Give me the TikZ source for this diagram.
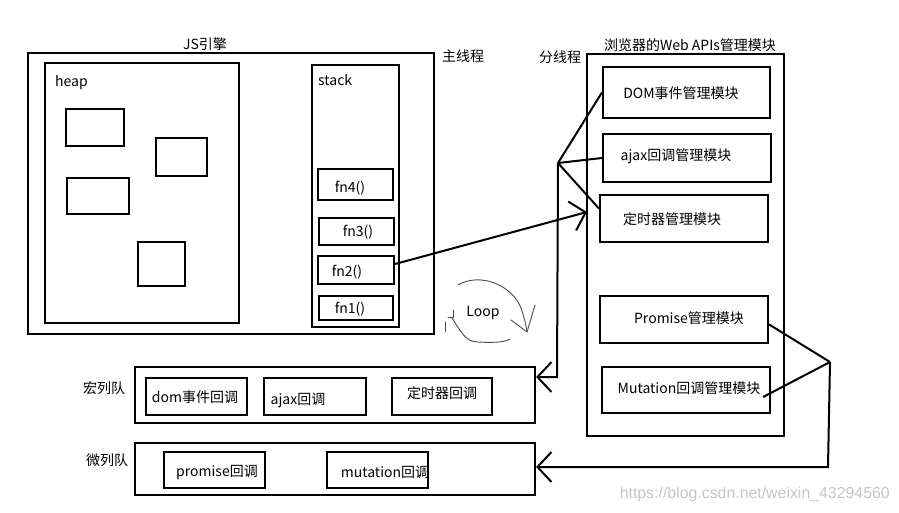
\documentclass[tikz,border=0pt]{standalone}
\usepackage{fontspec}
\setmainfont{Noto Sans CJK SC}
\usetikzlibrary{fit,arrows.meta}
\begin{document}
\begin{tikzpicture}[x=1pt,y=-1pt,
  box/.style={draw, line width=2.2pt, inner sep=0pt},
  lbl/.style={font=\fontsize{14}{16}\selectfont, inner sep=0pt},
  conn/.style={line width=2pt},
  tip/.style={-{Straight Barb[length=14pt,width=30pt,line width=2pt]}},
  hand/.style={line width=0.9pt, gray!60!black, line cap=round}]
\useasboundingbox[fill=white] (0,0) rectangle (899,513);

% JS engine
\node[box, fit={(28,53)(434,334)}] (js) {};
\node[lbl] (jslbl) at (205,44) {JS引擎};
\node[box, fit={(45,63)(239,323)}] (heap) {};
\node[lbl, anchor=west] (heaplbl) at (55,83) {heap};
\node[box, fit={(66,109)(124,146)}] (h1) {};
\node[box, fit={(156,138)(207,176)}] (h2) {};
\node[box, fit={(67,178)(129,214)}] (h3) {};
\node[box, fit={(138,242)(185,286)}] (h4) {};
\node[box, fit={(312,65)(399,327)}] (stack) {};
\node[lbl, anchor=west] (stacklbl) at (318,80) {stack};
\node[box, fit={(318,169)(393,200)}] (fn4) {};
\node[lbl] (fn4t) at (350,188) {fn4()};
\node[box, fit={(319,218)(394,245)}] (fn3) {};
\node[lbl] (fn3t) at (358,232) {fn3()};
\node[box, fit={(318,256)(394,284)}] (fn2) {};
\node[lbl] (fn2t) at (347,272) {fn2()};
\node[box, fit={(319,296)(393,320)}] (fn1) {};
\node[lbl] (fn1t) at (350,309) {fn1()};

\node[lbl] (main) at (463,56) {主线程};
\node[lbl] (sub) at (560,57) {分线程};

% Web APIs
\node[lbl] (apilbl) at (690,45) {浏览器的Web APIs管理模块};
\node[box, fit={(587,54)(784,436)}] (apis) {};
\node[box, fit={(603,67)(770,118)}] (dom) {};
\node[lbl] (domt) at (681,93) {DOM事件管理模块};
\node[box, fit={(603,134)(771,182)}] (ajaxm) {};
\node[lbl] (ajaxmt) at (676,156) {ajax回调管理模块};
\node[box, fit={(600,195)(768,242)}] (timer) {};
\node[lbl] (timert) at (672,219) {定时器管理模块};
\node[box, fit={(600,296)(768,343)}] (prom) {};
\node[lbl] (promt) at (689,318) {Promise管理模块};
\node[box, fit={(602,367)(770,413)}] (mut) {};
\node[lbl] (mutt) at (689,388) {Mutation回调管理模块};

% queues
\node[lbl] (macrolbl) at (104,388) {宏列队};
\node[box, fit={(135,367)(535,423)}] (macro) {};
\node[box, fit={(146,378)(247,415)}] (domcb) {};
\node[lbl] (domcbt) at (195,397) {dom事件回调};
\node[box, fit={(264,378)(366,415)}] (ajaxcb) {};
\node[lbl] (ajaxcbt) at (298,400) {ajax回调};
\node[box, fit={(392,378)(492,415)}] (timercb) {};
\node[lbl] (timercbt) at (442,393) {定时器回调};

\node[lbl] (microlbl) at (107,460) {微列队};
\node[box, fit={(135,443)(535,495)}] (micro) {};
\node[box, fit={(164,452)(265,488)}] (promcb) {};
\node[lbl] (promcbt) at (217,472) {promise回调};
\node[box, fit={(327,452)(428,488)}] (mutcb) {};
\node[lbl] (mutcbt) at (385,472) {mutation回调};

% connectors
\coordinate (hub) at (558,163);
\coordinate (mcorner) at (557,377);
\draw[conn] (hub) -- (dom.west);
\draw[conn] (hub) -- (ajaxm.west);
\draw[conn] (hub) -- ([yshift=10pt]timer.west);
\draw[conn, tip] (hub) -- (mcorner) -- (mcorner -| macro.east);

\coordinate (fn2tip) at (587,212);
\draw[conn, tip] ([yshift=6pt]fn2.east) -- (fn2tip);

\coordinate (hub2) at (830,362);
\coordinate (ucorner) at (828,467);
\draw[conn] ([yshift=-5pt]prom.east) -- (hub2);
\draw[conn] ([xshift=-8pt,yshift=-7pt]mut.east) -- (hub2);
\draw[conn, tip] (hub2) -- (ucorner) -- (ucorner -| micro.east);

% loop
\node[lbl] (loop) at (483,313) {Loop};
\draw[hand] (458,285) .. controls (480,272) and (512,285) .. (521,308) .. controls (524,317) and (526,325) .. (527,331);
\draw[hand] (535,305) -- (527,332) -- (511,320);
\draw[hand] (452,318) .. controls (460,330) and (465,342) .. (478,342) .. controls (495,343) and (505,342) .. (510,339);
\draw[hand] (453,310) -- (453,317) -- (448,317);
\draw[hand] (445,322) -- (445,332);

% watermark
\node[inner sep=0pt, text=gray!45, anchor=east] (wm) at (890,494) {\resizebox{270pt}{!}{\fontspec{Liberation Sans}https://blog.csdn.net/weixin\_43294560}};
\end{tikzpicture}
\end{document}
